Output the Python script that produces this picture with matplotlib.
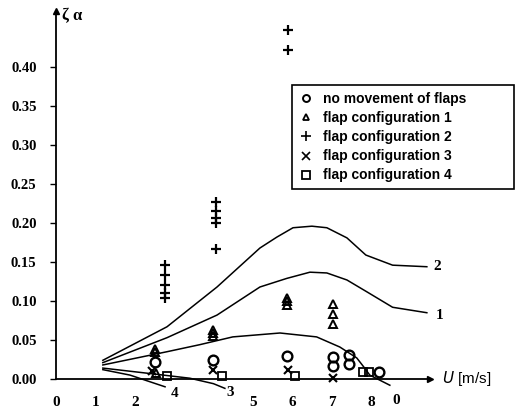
import matplotlib
matplotlib.use('Agg')
from matplotlib import pyplot as plt
from matplotlib.lines import Line2D

# curves (U in m/s, zeta_alpha)
curve2_u = [1.19, 2.82, 4.09, 5.18, 5.61, 6.02, 6.50, 6.88, 7.39, 7.87, 8.55, 9.42]
curve2_z = [0.024, 0.067, 0.118, 0.168, 0.182, 0.194, 0.196, 0.194, 0.181, 0.159, 0.146, 0.144]
curve1_u = [1.19, 2.82, 4.09, 5.18, 5.86, 6.45, 6.88, 7.39, 7.89, 8.55, 9.42]
curve1_z = [0.021, 0.053, 0.082, 0.118, 0.129, 0.137, 0.136, 0.127, 0.112, 0.092, 0.085]
curve0_u = [1.19, 2.82, 3.65, 4.49, 5.69, 6.62, 7.21, 7.64, 7.84, 7.97, 8.48]
curve0_z = [0.018, 0.035, 0.044, 0.054, 0.059, 0.054, 0.041, 0.027, 0.014, 0.005, -0.008]
curve3_u = [1.19, 2.39, 3.40, 4.00, 4.29]
curve3_z = [0.014, 0.007, 0.001, -0.006, -0.012]
curve4_u = [1.19, 1.88, 2.77]
curve4_z = [0.012, 0.005, -0.010]

# measured points
none_u = [2.51, 3.98, 5.86, 7.03, 7.03, 7.44, 7.44, 8.20]
none_z = [0.022, 0.024, 0.030, 0.028, 0.017, 0.031, 0.019, 0.009]
conf1_u = [2.51, 2.51, 2.55, 3.98, 3.98, 3.98, 5.86, 5.86, 5.86, 7.03, 7.03, 7.03]
conf1_z = [0.034, 0.038, 0.008, 0.055, 0.059, 0.063, 0.095, 0.100, 0.104, 0.096, 0.083, 0.070]
conf2_u = [2.77, 2.77, 2.77, 2.77, 2.77, 4.06, 4.06, 4.06, 4.06, 4.06, 5.89, 5.89]
conf2_z = [0.146, 0.133, 0.121, 0.110, 0.104, 0.227, 0.216, 0.207, 0.200, 0.167, 0.447, 0.422]
conf3_u = [2.45, 3.98, 5.89, 7.03]
conf3_z = [0.010, 0.012, 0.012, 0.001]
conf4_u = [2.82, 4.21, 6.07, 7.79, 7.95]
conf4_z = [0.004, 0.004, 0.004, 0.009, 0.009]

x_ticks = [0, 1, 2, 5, 6, 7, 8]
y_ticks = [0.00, 0.05, 0.10, 0.15, 0.20, 0.25, 0.30, 0.35, 0.40]

legend_labels = ['no movement of flaps', 'flap configuration 1', 'flap configuration 2',
                 'flap configuration 3', 'flap configuration 4']

SERIF = 'Liberation Serif'
SANS = 'Liberation Sans'

fig = plt.figure(figsize=(5.16, 4.08), dpi=100)
ax = fig.add_axes([56 / 516, 29 / 408, 374 / 516, 368 / 408])
ax.set_xlim(0, 9.5)
ax.set_ylim(0, 0.472)

# curves
for u, z in [(curve2_u, curve2_z), (curve1_u, curve1_z), (curve0_u, curve0_z),
             (curve3_u, curve3_z), (curve4_u, curve4_z)]:
    ax.plot(u, z, color='black', linewidth=1.1, clip_on=False)

# points
mk = dict(color='black', linestyle='none', clip_on=False, zorder=3)
ax.plot(none_u, none_z, marker='o', markersize=7, markerfacecolor='none', markeredgewidth=1.7, **mk)
ax.plot(conf1_u, conf1_z, marker='^', markersize=6, markerfacecolor='none', markeredgewidth=1.4, **mk)
ax.plot(conf2_u, conf2_z, marker='+', markersize=7, markeredgewidth=1.6, **mk)
ax.plot(conf3_u, conf3_z, marker='x', markersize=5.5, markeredgewidth=1.5, **mk)
ax.plot(conf4_u, conf4_z, marker='s', markersize=6, markerfacecolor='none', markeredgewidth=1.3, **mk)

# curve labels
lab = dict(fontfamily=SERIF, fontweight='bold', fontsize=11, ha='center', va='center')
ax.text(9.67, 0.144, '2', **lab)
ax.text(9.75, 0.082, '1', **lab)
ax.text(3.02, -0.018, '4', **lab)
ax.text(4.42, -0.017, '3', **lab)
ax.text(8.65, -0.027, '0', **lab)

# axes with arrows
for side in ['top', 'right']:
    ax.spines[side].set_visible(False)
for side in ['left', 'bottom']:
    ax.spines[side].set_linewidth(1.3)
ax.plot(1, 0, '>k', markersize=5, transform=ax.get_yaxis_transform(), clip_on=False)
ax.plot(0, 1, '^k', markersize=5, transform=ax.get_xaxis_transform(), clip_on=False)

ax.set_xticks(x_ticks)
ax.set_xticklabels([str(t) for t in x_ticks], fontfamily=SERIF, fontweight='bold', fontsize=11)
ax.set_yticks(y_ticks)
ax.set_yticklabels(['%.2f' % t for t in y_ticks], fontfamily=SERIF, fontweight='bold', fontsize=10.5)
ax.tick_params(axis='x', length=0, pad=12)
ax.tick_params(axis='y', length=4, width=1, pad=10)

ax.text(0.15, 0.465, 'ζ α', fontfamily=SERIF, fontweight='bold', fontsize=12, ha='left', va='center')
ax.text(9.8, 0.0, '$U$ [m/s]', fontfamily=SANS, fontsize=11, ha='left', va='center')

# legend
handles = [
    Line2D([], [], color='black', linestyle='none', marker='o', markersize=5, markerfacecolor='none', markeredgewidth=1.4),
    Line2D([], [], color='black', linestyle='none', marker='^', markersize=5, markerfacecolor='none', markeredgewidth=1.3),
    Line2D([], [], color='black', linestyle='none', marker='+', markersize=7, markeredgewidth=1.2),
    Line2D([], [], color='black', linestyle='none', marker='x', markersize=5.5, markeredgewidth=1.2),
    Line2D([], [], color='black', linestyle='none', marker='s', markersize=5.5, markerfacecolor='none', markeredgewidth=1.3),
]
leg = ax.legend(handles, legend_labels, loc='upper left', mode='expand',
                bbox_to_anchor=(292 / 516, 1 - 190 / 408, (514 - 292) / 516, (190 - 85) / 408),
                bbox_transform=fig.transFigure, fancybox=False, framealpha=1,
                edgecolor='black', handlelength=1.0, handletextpad=0.7, labelspacing=0.37,
                borderpad=0.5, borderaxespad=0,
                prop={'family': SANS, 'weight': 'bold', 'size': 10})
leg.get_frame().set_linewidth(1.2)

fig.savefig('out.png', dpi=100)
